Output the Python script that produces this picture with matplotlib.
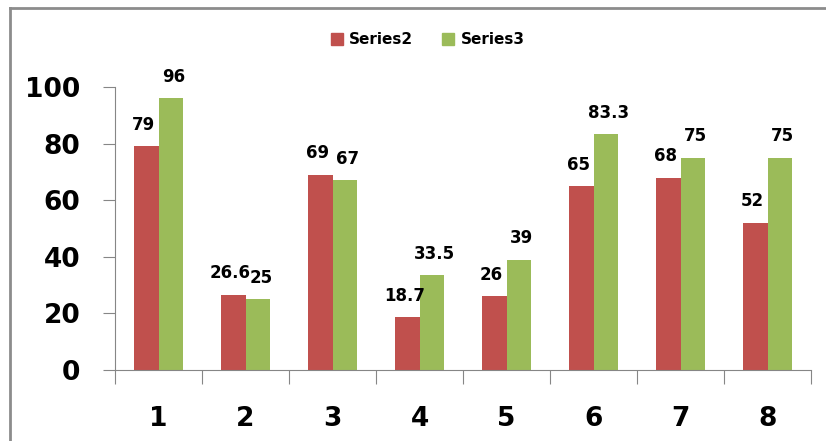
import numpy as np
import matplotlib.pyplot as plt
from matplotlib.lines import Line2D

categories = ["1", "2", "3", "4", "5", "6", "7", "8"]
series2 = [79, 26.6, 69, 18.7, 26, 65, 68, 52]
series3 = [96, 25, 67, 33.5, 39, 83.3, 75, 75]
series2_labels = ["79", "26.6", "69", "18.7", "26", "65", "68", "52"]
series3_labels = ["96", "25", "67", "33.5", "39", "83.3", "75", "75"]

red = "#C0504D"
green = "#9BBB59"
axis_gray = "#868686"

fig = plt.figure(figsize=(8.26, 4.41), dpi=100)
ax = fig.add_axes([115 / 826, 1 - 370 / 441, 696 / 826, 283 / 441])

x = np.arange(len(categories))
w = 0.287
ax.bar(x - w / 2, series2, width=w, color=red, label="Series2")
ax.bar(x + w / 2, series3, width=w, color=green, label="Series3")

# data labels above each bar
for xi, v, t in zip(x, series2, series2_labels):
    ax.annotate(t, (xi - w / 2, v), xytext=(-2, 9), textcoords="offset points",
                ha="center", va="bottom", fontsize=12, fontweight="bold")
for xi, v, t in zip(x, series3, series3_labels):
    ax.annotate(t, (xi + w / 2, v), xytext=(2, 9), textcoords="offset points",
                ha="center", va="bottom", fontsize=12, fontweight="bold")

ax.set_xlim(-0.5, len(categories) - 0.5)
ax.set_ylim(0, 100)
ax.set_yticks(range(0, 101, 20))
ax.tick_params(axis="y", labelsize=19, length=9, color=axis_gray, direction="out", pad=16)
for lab in ax.get_yticklabels():
    lab.set_fontweight("bold")

# x ticks at category boundaries, labels in the middle
ax.set_xticks(np.arange(-0.5, len(categories), 1))
ax.set_xticklabels([])
ax.set_xticks(x, minor=True)
ax.set_xticklabels(categories, minor=True, fontsize=19, fontweight="bold")
ax.tick_params(axis="x", which="major", length=10, color=axis_gray, direction="out")
ax.tick_params(axis="x", which="minor", length=0, pad=26)

for side in ["top", "right"]:
    ax.spines[side].set_visible(False)
for side in ["left", "bottom"]:
    ax.spines[side].set_color(axis_gray)

handles = [Line2D([], [], marker="s", linestyle="none", markersize=9, color=red),
           Line2D([], [], marker="s", linestyle="none", markersize=9, color=green)]
leg = fig.legend(handles, ["Series2", "Series3"], loc="center", bbox_to_anchor=(427 / 826, 1 - 40 / 441),
                 ncol=2, frameon=False, prop={"weight": "bold", "size": 11},
                 handletextpad=0.3, columnspacing=1.8, handlelength=1)

# outer chart border (partially cropped)
fig.add_artist(Line2D([10 / 826, 10 / 826], [0, 1 - 8 / 441], color="#8C8C8C", lw=2))
fig.add_artist(Line2D([10 / 826, 1], [1 - 8 / 441, 1 - 8 / 441], color="#8C8C8C", lw=2))

fig.savefig("out.png", dpi=100)
